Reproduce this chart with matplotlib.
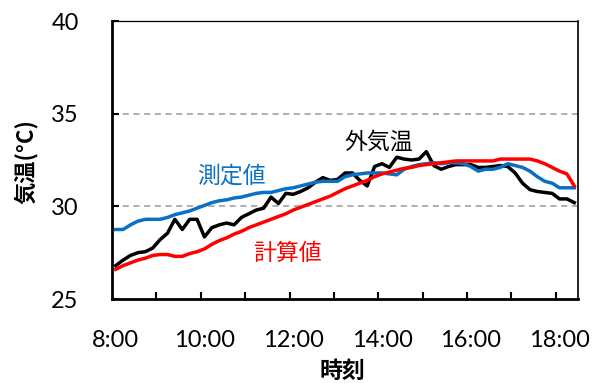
import numpy as np
import matplotlib.pyplot as plt
import matplotlib as mpl
mpl.use('Agg')

plt.rcParams['font.family'] = ['Lato', 'Noto Sans CJK JP', 'DejaVu Sans']

## Data: 10-minute readings from 8:00 to 18:20
outside = [26.8, 27.1, 27.35, 27.5, 27.55, 27.75, 28.2, 28.55, 29.3, 28.75,
           29.3, 29.3, 28.35, 28.85, 29.0, 29.1, 29.0, 29.4, 29.6, 29.8,
           29.9, 30.5, 30.15, 30.7, 30.65, 30.8, 31.0, 31.3, 31.55, 31.4,
           31.45, 31.8, 31.8, 31.4, 31.1, 32.15, 32.3, 32.1, 32.65, 32.55,
           32.5, 32.55, 32.95, 32.2, 32.0, 32.15, 32.25, 32.25, 32.25, 32.1,
           32.1, 32.15, 32.2, 32.15, 31.8, 31.25, 30.9, 30.8, 30.75, 30.7,
           30.4, 30.4, 30.2]
measured = [28.75, 28.75, 29.0, 29.2, 29.3, 29.3, 29.3, 29.4, 29.55, 29.65,
            29.75, 29.9, 30.05, 30.2, 30.3, 30.35, 30.45, 30.5, 30.6, 30.7,
            30.75, 30.75, 30.85, 30.95, 31.0, 31.1, 31.2, 31.3, 31.35, 31.35,
            31.35, 31.6, 31.7, 31.75, 31.8, 31.8, 31.8, 31.75, 31.7, 32.0,
            32.15, 32.25, 32.3, 32.35, 32.3, 32.35, 32.35, 32.3, 32.15, 31.9,
            32.0, 32.0, 32.1, 32.3, 32.2, 32.1, 31.9, 31.6, 31.35, 31.25,
            31.0, 31.0, 31.0]
calculated = [26.6, 26.8, 26.95, 27.1, 27.2, 27.35, 27.4, 27.4, 27.3, 27.3,
              27.45, 27.55, 27.7, 27.95, 28.15, 28.3, 28.5, 28.65, 28.85, 29.0,
              29.15, 29.3, 29.45, 29.6, 29.8, 29.95, 30.1, 30.25, 30.4, 30.55,
              30.75, 30.95, 31.1, 31.25, 31.4, 31.6, 31.75, 31.85, 31.95, 32.05,
              32.1, 32.2, 32.25, 32.3, 32.35, 32.4, 32.45, 32.45, 32.45, 32.45,
              32.45, 32.45, 32.55, 32.55, 32.55, 32.55, 32.55, 32.45, 32.3, 32.1,
              31.9, 31.75, 31.1]
time_labels = ['8:00', '10:00', '12:00', '14:00', '16:00', '18:00']
label_every = 12   # one label per 2 hours
tick_every = 6     # one tick per hour
y_ticks = [25, 30, 35, 40]

cjk = ['Noto Sans CJK JP', 'DejaVu Sans']
n = len(outside)
x = np.arange(n)

fig = plt.figure(figsize=(6.02, 3.83), dpi=100, facecolor='w')
ax = fig.add_axes([112/602, 84/383, 466/602, 278/383])

for v in [30, 35]:
    ax.axhline(v, color='#9a9a9a', lw=1.1, dashes=(4, 3), zorder=1)

ax.plot(x, outside, color='black', lw=2.5, zorder=3, solid_joinstyle='round')
ax.plot(x, measured, color='#0a70c4', lw=2.5, zorder=4, solid_joinstyle='round')
ax.plot(x, calculated, color='#ff0000', lw=2.5, zorder=5, solid_joinstyle='round')

ax.set_xlim(-0.5, n - 0.5)
ax.set_ylim(25, 40)

ax.set_xticks(np.arange(0, n, label_every))
ax.set_xticklabels(time_labels)
ax.set_xticks(np.arange(tick_every - 0.5, n, tick_every), minor=True)
ax.tick_params(axis='x', which='major', length=0, pad=22, labelsize=17)
ax.tick_params(axis='x', which='minor', direction='in', length=5, width=1.5)

ax.set_yticks(y_ticks)
ax.tick_params(axis='y', direction='in', length=5, width=1.5, pad=24, labelsize=17)

ax.spines['left'].set_linewidth(2.0)
ax.spines['bottom'].set_linewidth(2.0)
ax.spines['right'].set_linewidth(1.2)
ax.spines['top'].set_linewidth(0.9)

ax.text(35.6, 33.48, '外気温', family=cjk, fontsize=16.5, ha='center', va='center', color='black')
ax.text(15.7, 31.64, '測定値', family=cjk, fontsize=16.5, ha='center', va='center', color='#0a70c4')
ax.text(23.2, 27.48, '計算値', family=cjk, fontsize=16.5, ha='center', va='center', color='#ff0000')

fig.text(342/602, 1 - 371/383, '時刻', family=cjk, fontsize=16.5, fontweight='bold',
         ha='center', va='center')
fig.text(26/602, 1 - 162/383, '気温(°C)', family=cjk, fontsize=16, fontweight='bold',
         ha='center', va='center', rotation=90)

plt.savefig('out.png', dpi=100)
